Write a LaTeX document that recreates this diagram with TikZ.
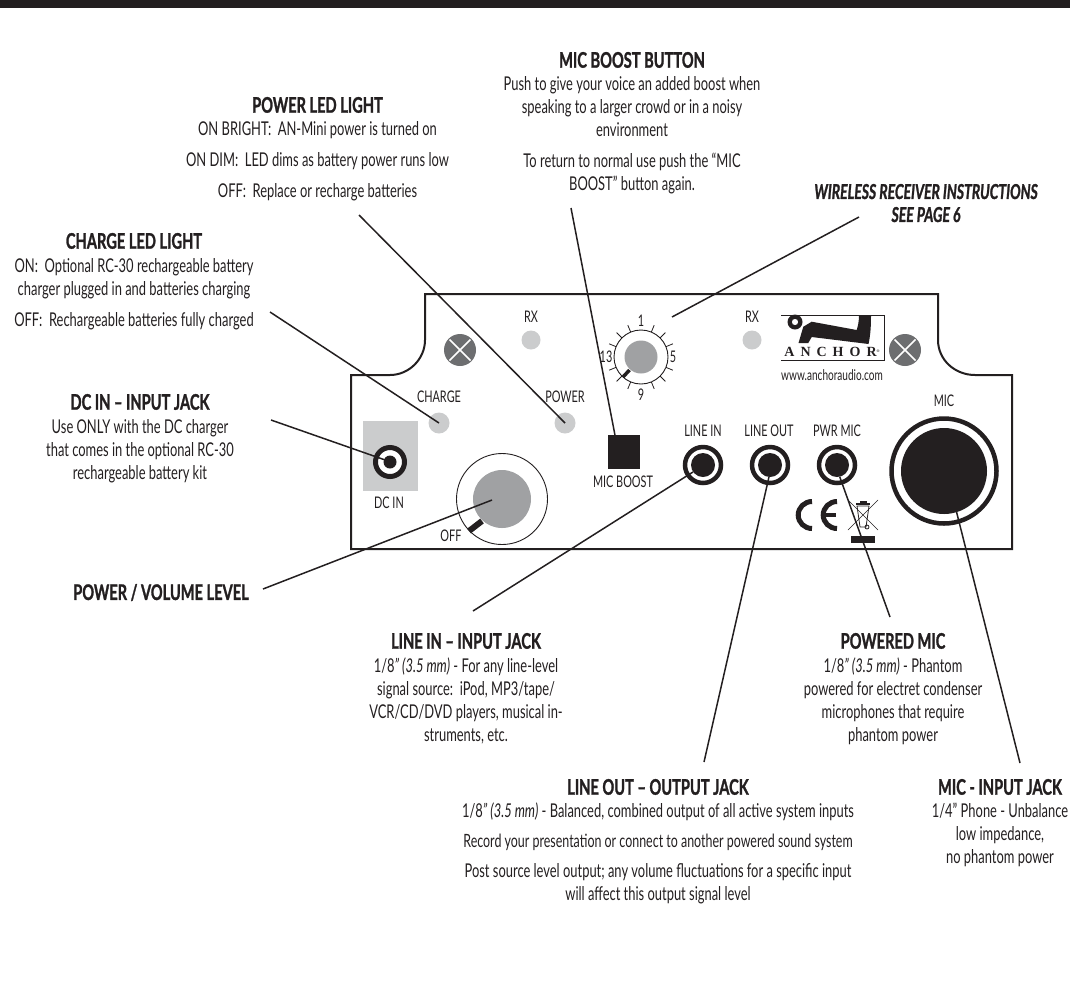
\documentclass[tikz,border=0pt]{standalone}
\usepackage{fontspec}
\setmainfont[FakeStretch=0.68,BoldFeatures={FakeBold=1.2},BoldItalicFeatures={FakeBold=1.2}]{Lato}
\newfontfamily\logofont{Liberation Serif}
\definecolor{ink}{HTML}{231F20}
\definecolor{ledgray}{HTML}{CBCCCD}
\definecolor{knobgray}{HTML}{A0A1A3}
\definecolor{screwgray}{HTML}{6D6E70}
\newcommand{\hd}[1]{{\bfseries\fontsize{21.5}{23}\selectfont #1}}
\newcommand{\hdi}[1]{{\bfseries\itshape\fontsize{20.5}{23}\selectfont #1}}
\tikzset{
  block/.style={anchor=north,inner sep=0pt,outer sep=0pt,align=center,text=ink,font=\fontsize{19}{23}\selectfont},
  panellabel/.style={inner sep=0pt,outer sep=0pt,text=ink,font=\fontsize{16}{20}\selectfont},
  leader/.style={draw=ink,line width=1.5pt},
  panelline/.style={draw=ink,line width=2pt},
  led/.style={circle,fill=ledgray,inner sep=0pt,outer sep=0pt},
  jackring/.style={circle,draw=ink,fill=white,line width=4.5pt,inner sep=0pt,outer sep=0pt,minimum size=36pt},
  jackcore/.style={circle,fill=ink,inner sep=0pt,outer sep=0pt,minimum size=24pt},
  screw/.style={circle,fill=screwgray,inner sep=0pt,outer sep=0pt,minimum size=32pt},
  screwx/.style={draw=white,line width=1.5pt},
  dialtick/.style={draw=ink,line width=0.8pt},
}
\begin{document}
\begin{tikzpicture}[x=1pt,y=-1pt]
\useasboundingbox (0,0) rectangle (1070,989);
\fill[ink] (0,0) rectangle (1070,7.5);
% panel
\draw[panelline,line join=miter] (425,294) -- (938,294) -- (938,340) .. controls (938,360) and (955,375) .. (975,375) -- (1012,375) -- (1012,549) -- (351,549) -- (351,375) -- (390,375) .. controls (409,375) and (425,359) .. (425,340) -- cycle;
% DC in
\fill[ledgray] (363,421) rectangle (418,491);
\node[jackring,minimum size=29pt,line width=5pt] (dcring) at (390,462) {};
\node[jackcore,minimum size=13pt] (dccore) at (390,462) {};
\node[panellabel] (dclabel) at (389,503) {DC IN};
% screws
\node[screw] (screwa) at (460,350) {};
\draw[screwx] (449.5,339.5) -- (470.5,360.5) (470.5,339.5) -- (449.5,360.5);
\node[screw] (screwb) at (905,350) {};
\draw[screwx] (894.5,339.5) -- (915.5,360.5) (915.5,339.5) -- (894.5,360.5);
% LEDs
\node[led,minimum size=19pt] (rxa) at (531,340) {};
\node[led,minimum size=19pt] (rxb) at (752,340) {};
\node[panellabel] (rxalabel) at (531,317) {RX};
\node[panellabel] (rxblabel) at (752,317) {RX};
\node[led,minimum size=21pt] (ledcharge) at (439,423) {};
\node[led,minimum size=21pt] (ledpower) at (565,423) {};
\node[panellabel] (chargelabel) at (439,397) {CHARGE};
\node[panellabel] (powerlabel) at (565,397) {POWER};
% volume knob
\node[circle,draw=ink,line width=0.9pt,inner sep=0pt,outer sep=0pt,minimum size=91pt] (knob) at (502,499) {};
\node[circle,fill=knobgray,inner sep=0pt,outer sep=0pt,minimum size=58pt] (knobcap) at (502,499) {};
\draw[ink,line width=6pt] (482,521) -- (469,531);
\node[panellabel] (offlabel) at (451,536) {OFF};
% dial
\foreach \a in {22.5,45,67.5,112.5,135,157.5,202.5,225,247.5,292.5,315,337.5}
  \draw[dialtick] (641,357) ++(\a:27) -- ++(\a:7.5);
\node[circle,draw=ink,fill=white,line width=0.9pt,inner sep=0pt,outer sep=0pt,minimum size=54pt] (dial) at (641,357) {};
\node[circle,fill=knobgray,inner sep=0pt,outer sep=0pt,minimum size=33pt] (dialcap) at (641,357) {};
\draw[ink,line width=3.5pt] (629.5,370) -- (623,377);
\node[panellabel] (d1) at (641,321) {1};
\node[panellabel] (d5) at (673,357) {5};
\node[panellabel] (d9) at (641,395) {9};
\node[panellabel] (d13) at (606,357) {13};
% mic boost
\node[rectangle,fill=ink,inner sep=0pt,outer sep=0pt,minimum width=32pt,minimum height=34pt] (boost) at (624,452) {};
\node[panellabel] (boostlabel) at (623,482) {MIC BOOST};
% jacks
\node[jackring] (lineinring) at (703,465) {};
\node[jackcore] (lineincore) at (703,465) {};
\node[panellabel] (lineinlabel) at (703,431) {LINE IN};
\node[jackring] (lineoutring) at (770,465) {};
\node[jackcore] (lineoutcore) at (770,465) {};
\node[panellabel] (lineoutlabel) at (769,431) {LINE OUT};
\node[jackring] (pwrring) at (837,465) {};
\node[jackcore] (pwrcore) at (837,465) {};
\node[panellabel] (pwrlabel) at (837,431) {PWR MIC};
\node[jackring,minimum size=105pt] (micring) at (944,471) {};
\node[jackcore,minimum size=86pt] (miccore) at (944,471) {};
\node[panellabel] (miclabel) at (944,401) {MIC};
% logo
\draw[ink,line width=0.8pt] (781,315) -- (884,315) -- (884,360) -- (781,360);
\fill[ink] (811.7,321.7) -- (856.7,330) .. controls (858,326) and (859,321) .. (859,315) -- (871,315) .. controls (871,326) and (870.5,335) .. (868.5,344) -- (811.7,337) -- (808.3,343) -- (798.5,343) -- (803.3,326.7) -- cycle;
\fill[ink,even odd rule] (795,322) circle[radius=7.5pt] (795,322) circle[radius=3.2pt];
\node[inner sep=0pt,outer sep=0pt,text=ink,font=\logofont\bfseries\fontsize{14}{16}\selectfont] (logotext) at (832,352) {A\hspace{6pt}N\hspace{6pt}C\hspace{6pt}H\hspace{6pt}O\hspace{6pt}R\raisebox{4pt}{\fontsize{4}{4}\selectfont®}};
\node[panellabel,font=\fontsize{14.8}{16}\selectfont] (logourl) at (832,375) {www.anchoraudio.com};
% CE
\draw[ink,line width=5pt] (812,501.5) .. controls (804.5,501.5) and (798.2,507.5) .. (798.2,515) .. controls (798.2,522.5) and (804.5,528.5) .. (812,528.5);
\draw[ink,line width=5pt] (837,501.5) .. controls (829.5,501.5) and (823.2,507.5) .. (823.2,515) .. controls (823.2,522.5) and (829.5,528.5) .. (837,528.5);
\draw[ink,line width=4.5pt] (825,515) -- (836,515);
% WEEE
\draw[ink,line width=0.5pt] (848,530) -- (878,500) (848,500) -- (878,530);
\draw[ink,line width=0.8pt] (857,506) -- (869,506) -- (866,527) -- (860,527) -- cycle;
\draw[ink,line width=1.5pt] (856,504) -- (870,504);
\fill[ink] (860,501) rectangle (867,503.5);
\draw[ink,line width=0.8pt] (867,527) circle[radius=2pt];
\fill[ink] (851,536) rectangle (875,543);
% text blocks
\node[block] (tpower) at (317.5,97) {\hd{POWER LED LIGHT}\\ON BRIGHT:\ \ AN-Mini power is turned on\\[8pt]ON DIM:\ \ LED dims as battery power runs low\\[8pt]OFF:\ \ Replace or recharge batteries};
\node[block] (tcharge) at (134,233) {\hd{CHARGE LED LIGHT}\\[1pt]ON:\ \ Optional RC-30 rechargeable battery\\charger plugged in and batteries charging\\[7.5pt]OFF:\ \ Rechargeable batteries fully charged};
\node[block] (tdc) at (140,394) {\hd{DC IN – INPUT JACK}\\[1pt]Use ONLY with the DC charger\\that comes in the optional RC-30\\rechargeable battery kit};
\node[block] (tvol) at (161,584) {\hd{POWER / VOLUME LEVEL}};
\node[block] (tboost) at (632,52) {\hd{MIC BOOST BUTTON}\\Push to give your voice an added boost when\\speaking to a larger crowd or in a noisy\\environment\\[8pt]To return to normal use push the “MIC\\BOOST” button again.};
\node[block] (twire) at (926,184) {\hdi{WIRELESS RECEIVER INSTRUCTIONS}\\\hdi{SEE PAGE 6}};
\node[block] (tlinein) at (466,633) {\hd{LINE IN – INPUT JACK}\\[1pt]1/8\textit{" (3.5 mm)} - For any line-level\\signal source:\ \ iPod, MP3/tape/\\VCR/CD/DVD players, musical in-\\struments, etc.};
\node[block] (tpwr) at (893,633) {\hd{POWERED MIC}\\[1pt]1/8\textit{" (3.5 mm)} - Phantom\\powered for electret condenser\\microphones that require\\phantom power};
\node[block] (tlineout) at (658,779) {\hd{LINE OUT – OUTPUT JACK}\\1/8\textit{" (3.5 mm)} - Balanced, combined output of all active system inputs\\[7pt]{\fontsize{18.3}{23}\selectfont Record your presentation or connect to another powered sound system}\\[7pt]Post source level output; any volume fluctuations for a specific input\\will affect this output signal level};
\node[block] (tmic) at (1000,779) {\hd{MIC - INPUT JACK}\\1/4" Phone - Unbalance\\low impedance,\\no phantom power};
% leader ends
\coordinate (spower) at (359,215);
\coordinate (scharge) at (270,312);
\coordinate (sdc) at (271,420);
\coordinate (svol) at (263,589);
\coordinate (svolend) at (492,500);
\coordinate (sboost) at (571,208);
\coordinate (swire) at (859,217);
\coordinate (swireend) at (672,317);
\coordinate (slinein) at (473,611);
\coordinate (slineout) at (704,762);
\coordinate (spwr) at (890,617);
\coordinate (smic) at (1020,763);
\draw[leader] (spower) -- (ledpower.center);
\draw[leader] (scharge) -- (ledcharge.center);
\draw[leader] (sdc) -- (dccore.158);
\draw[leader] (svol) -- (svolend);
\draw[leader] (sboost) -- (boost.118);
\draw[leader] (swire) -- (swireend);
\draw[leader] (slinein) -- (lineincore.215);
\draw[leader] (slineout) -- (lineoutcore.265);
\draw[leader] (spwr) -- (pwrcore.283);
\draw[leader] (smic) -- (miccore.287);
\end{tikzpicture}
\end{document}
